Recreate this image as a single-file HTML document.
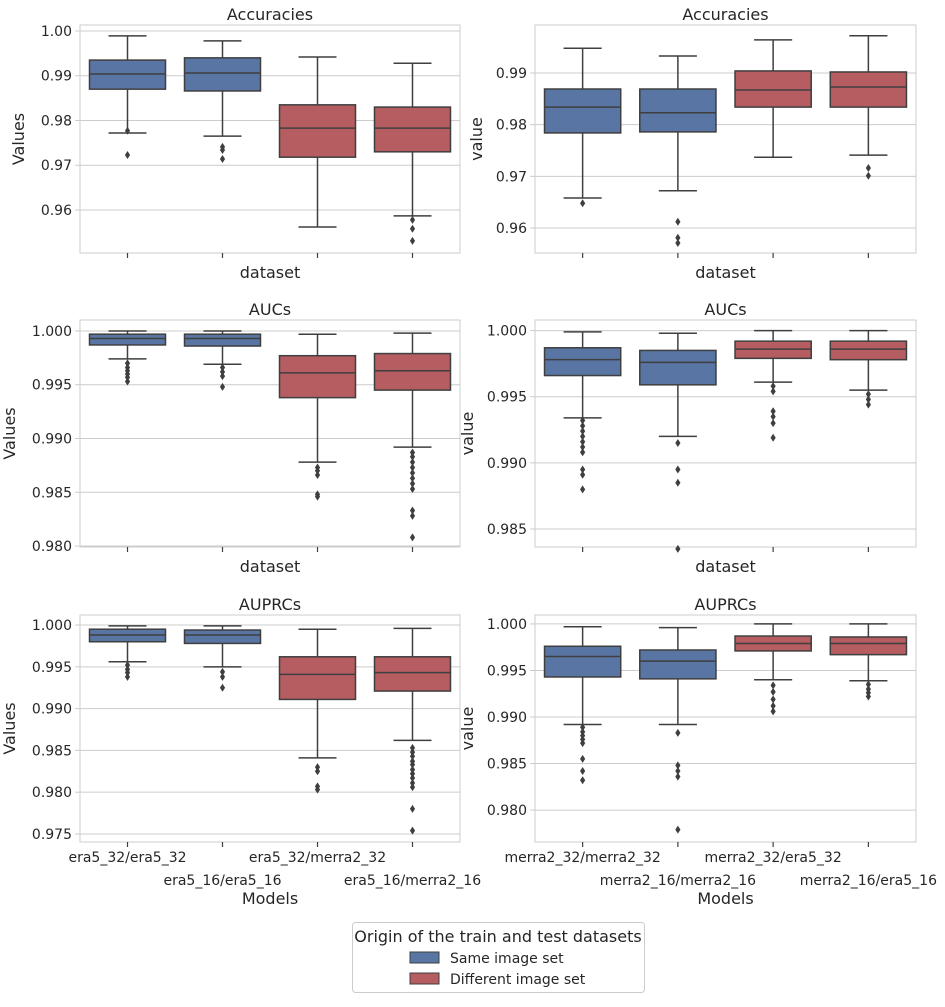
<!DOCTYPE html>
<html><head><meta charset="utf-8">
<style>
body{margin:0;background:#fff;font-family:"Liberation Sans","DejaVu Sans",sans-serif;}
svg text{font-family:"DejaVu Sans","Liberation Sans",sans-serif;fill:#262626;}
</style></head>
<body>
<svg id="chart" width="945" height="1002" viewBox="0 0 945 1002" xmlns="http://www.w3.org/2000/svg"></svg>
<script>
// ---- data ----
const leftCategories = ["era5_32/era5_32","era5_16/era5_16","era5_32/merra2_32","era5_16/merra2_16"];
const rightCategories = ["merra2_32/merra2_32","merra2_16/merra2_16","merra2_32/era5_32","merra2_16/era5_16"];
const boxGroups = ["same","same","diff","diff"];
const panelTitles = ["Accuracies","Accuracies","AUCs","AUCs","AUPRCs","AUPRCs"];
// box stats: [whiskerLow, q1, median, q3, whiskerHigh]
const accLeftStats = [[0.9772,0.9870,0.9904,0.9935,0.9989],[0.9765,0.9866,0.9906,0.9940,0.9978],[0.9562,0.9718,0.9783,0.9835,0.9942],[0.9587,0.9730,0.9783,0.9830,0.9928]];
const accLeftOut = [[0.9777,0.9723],[0.9741,0.9734,0.9714],[],[0.9578,0.9558,0.9531]];
const accRightStats = [[0.9658,0.9784,0.9834,0.9869,0.9948],[0.9672,0.9786,0.9823,0.9869,0.9933],[0.9737,0.9834,0.9867,0.9904,0.9964],[0.9741,0.9834,0.9873,0.9902,0.9972]];
const accRightOut = [[0.9648],[0.9612,0.9581,0.9571],[],[0.9716,0.9701]];
const aucLeftStats = [[0.9974,0.9987,0.9993,0.9997,1.0000],[0.9969,0.9986,0.9993,0.9997,1.0000],[0.9878,0.9938,0.9961,0.9977,0.9997],[0.9892,0.9945,0.9963,0.9979,0.9998]];
const aucLeftOut = [[0.9970,0.9966,0.9963,0.9960,0.9957,0.9953],[0.9966,0.9962,0.9958,0.9948],[0.9873,0.9870,0.9866,0.9848,0.9846],[0.9887,0.9883,0.9878,0.9873,0.9868,0.9863,0.9858,0.9853,0.9833,0.9828,0.9808]];
const aucRightStats = [[0.9934,0.9966,0.9978,0.9987,0.9999],[0.9920,0.9959,0.9976,0.9985,0.9998],[0.9961,0.9979,0.9986,0.9992,1.0000],[0.9955,0.9978,0.9986,0.9992,1.0000]];
const aucRightOut = [[0.9932,0.9928,0.9924,0.9920,0.9916,0.9912,0.9908,0.9895,0.9891,0.9880],[0.9915,0.9895,0.9885,0.9835],[0.9958,0.9954,0.9939,0.9935,0.9930,0.9919],[0.9952,0.9948,0.9944]];
const prLeftStats = [[0.9956,0.9980,0.9988,0.9995,0.9999],[0.9950,0.9978,0.9988,0.9994,0.9999],[0.9841,0.9911,0.9941,0.9962,0.9995],[0.9862,0.9921,0.9943,0.9962,0.9996]];
const prLeftOut = [[0.9952,0.9947,0.9943,0.9938],[0.9944,0.9938,0.9925],[0.9830,0.9825,0.9807,0.9803],[0.9853,0.9848,0.9843,0.9837,0.9833,0.9827,0.9822,0.9817,0.9811,0.9806,0.9780,0.9754]];
const prRightStats = [[0.9892,0.9943,0.9965,0.9976,0.9997],[0.9892,0.9941,0.9960,0.9972,0.9996],[0.9940,0.9971,0.9979,0.9987,1.0000],[0.9939,0.9967,0.9979,0.9986,1.0000]];
const prRightOut = [[0.9889,0.9884,0.9880,0.9876,0.9872,0.9855,0.9842,0.9832],[0.9883,0.9848,0.9842,0.9836,0.9779],[0.9934,0.9927,0.9919,0.9912,0.9906],[0.9935,0.9930,0.9926,0.9922]];
const ticksAccL = ["1.00","0.99","0.98","0.97","0.96"];
const ticksAccR = ["0.99","0.98","0.97","0.96"];
const ticksAucL = ["1.000","0.995","0.990","0.985","0.980"];
const ticksAucR = ["1.000","0.995","0.990","0.985"];
const ticksPrL = ["1.000","0.995","0.990","0.985","0.980","0.975"];
const ticksPrR = ["1.000","0.995","0.990","0.985","0.980"];

const NS="http://www.w3.org/2000/svg";
const svg=document.getElementById('chart');
function mk(tag,attrs,parent,text){const e=document.createElementNS(NS,tag);for(const k in attrs)e.setAttribute(k,attrs[k]);if(text!==undefined)e.textContent=text;(parent||svg).appendChild(e);return e;}
const colors={same:"#5875a4",diff:"#b55d60"};
const panels=[
 {x:80,y:25,w:380,h:228,lo:0.95039,hi:1.00134,stats:accLeftStats,out:accLeftOut,ticks:ticksAccL,ylab:"Values",ylx:24,xlab:"dataset",cats:null},
 {x:535,y:25,w:381,h:228,lo:0.95516,hi:0.99929,stats:accRightStats,out:accRightOut,ticks:ticksAccR,ylab:"value",ylx:482,xlab:"dataset",cats:null},
 {x:80,y:320,w:380,h:227,lo:0.97991,hi:1.00102,stats:aucLeftStats,out:aucLeftOut,ticks:ticksAucL,ylab:"Values",ylx:15,xlab:"dataset",cats:null},
 {x:535,y:320,w:381,h:227,lo:0.98364,hi:1.00080,stats:aucRightStats,out:aucRightOut,ticks:ticksAucR,ylab:"value",ylx:473,xlab:"dataset",cats:null},
 {x:80,y:615,w:380,h:227,lo:0.97404,hi:1.00120,stats:prLeftStats,out:prLeftOut,ticks:ticksPrL,ylab:"Values",ylx:15,xlab:"Models",cats:leftCategories},
 {x:535,y:615,w:381,h:227,lo:0.97657,hi:1.00096,stats:prRightStats,out:prRightOut,ticks:ticksPrR,ylab:"value",ylx:473,xlab:"Models",cats:rightCategories}
];
panels.forEach((p,pi)=>{
  const g=mk('g',{});
  
  
  const ys=v=>p.y+p.h-(v-p.lo)/(p.hi-p.lo)*p.h;
  const band=p.w/4;
  const xs=i=>p.x+band*(i+0.5);
  // grid + y ticks
  p.ticks.forEach(t=>{
    const yy=ys(parseFloat(t));
    mk('line',{x1:p.x,x2:p.x+p.w,y1:yy,y2:yy,stroke:"#cccccc","stroke-width":1},g);
    mk('line',{x1:p.x-5,x2:p.x,y1:yy,y2:yy,stroke:"#cccccc","stroke-width":1},g);
    const tl=mk('text',{x:p.x-8,y:yy+5,"text-anchor":"end","font-size":14},g,t);
    
    
  });
  mk('rect',{x:p.x,y:p.y,width:p.w,height:p.h,fill:"none",stroke:"#cccccc","stroke-width":1},g);
  // title
  const tt=mk('text',{x:p.x+p.w/2,y:p.y-5,"text-anchor":"middle","font-size":16},g,panelTitles[pi]);
  
  
  // y label
  const yl=mk('text',{x:p.ylx,y:p.y+p.h/2,"text-anchor":"middle","font-size":16,transform:`rotate(-90 ${p.ylx} ${p.y+p.h/2})`},g,p.ylab);
  
  
  // x label
  const xly=p.cats?p.y+p.h+62:p.y+p.h+25;
  const xl=mk('text',{x:p.x+p.w/2,y:xly,"text-anchor":"middle","font-size":16},g,p.xlab);
  
  
  p.stats.forEach((s,i)=>{
    const cx=xs(i), bw=band*0.8, cap=bw/2;
    mk('line',{x1:cx,x2:cx,y1:p.y+p.h,y2:p.y+p.h+5,stroke:"#3f3f3f","stroke-width":1.2},g);
    if(p.cats){
      const lt=mk('text',{x:cx,y:p.y+p.h+(i%2?43:20),"text-anchor":"middle","font-size":14},g,p.cats[i]);
      
      
    }
    const bg=mk('g',{},g);
    
    
    const lc="#3f3f3f";
    mk('line',{x1:cx,x2:cx,y1:ys(s[0]),y2:ys(s[1]),stroke:lc,"stroke-width":1.5},bg);
    mk('line',{x1:cx,x2:cx,y1:ys(s[3]),y2:ys(s[4]),stroke:lc,"stroke-width":1.5},bg);
    mk('line',{x1:cx-cap/2,x2:cx+cap/2,y1:ys(s[0]),y2:ys(s[0]),stroke:lc,"stroke-width":1.5},bg);
    mk('line',{x1:cx-cap/2,x2:cx+cap/2,y1:ys(s[4]),y2:ys(s[4]),stroke:lc,"stroke-width":1.5},bg);
    mk('rect',{x:cx-bw/2,y:ys(s[3]),width:bw,height:ys(s[1])-ys(s[3]),fill:colors[boxGroups[i]],stroke:lc,"stroke-width":1.5},bg);
    mk('line',{x1:cx-bw/2,x2:cx+bw/2,y1:ys(s[2]),y2:ys(s[2]),stroke:lc,"stroke-width":1.5},bg);
    p.out[i].forEach(v=>{
      const yy=ys(v);
      const d=mk('path',{d:`M${cx} ${yy-4} L${cx+2.6} ${yy} L${cx} ${yy+4} L${cx-2.6} ${yy} Z`,fill:lc},bg);
      
      
    });
  });
});
// legend
const lg=mk('g',{});


mk('rect',{x:352.5,y:922.5,width:292,height:70,rx:3,fill:"#fff",stroke:"#cccccc"},lg);
mk('text',{x:498,y:942,"text-anchor":"middle","font-size":16},lg,"Origin of the train and test datasets");
const e1=mk('g',{},lg);


mk('rect',{x:410,y:952,width:29,height:11,fill:colors.same,stroke:"#3f3f3f"},e1);
mk('text',{x:450,y:963,"font-size":14},e1,"Same image set");
const e2=mk('g',{},lg);


mk('rect',{x:410,y:973,width:29,height:11,fill:colors.diff,stroke:"#3f3f3f"},e2);
mk('text',{x:450,y:984,"font-size":14},e2,"Different image set");
</script>
</body></html>
